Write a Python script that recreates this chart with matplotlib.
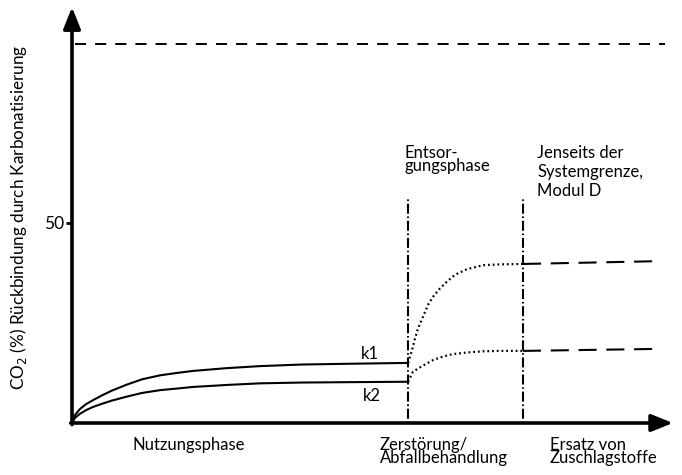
import matplotlib
matplotlib.use("Agg")
import matplotlib.pyplot as plt

plt.rcParams.update({"font.family": ["Lato", "DejaVu Sans"], "font.size": 12,
                     "lines.scale_dashes": False})

# phase boundaries (arbitrary time units) and top reference level
PHASE_X = [3.36, 4.51]
TOP_LEVEL = 94.6
TOP_X = [0.03, 5.93]
Y_TICKS = [50]

# use phase (solid)
use_x = [0, 0.03, 0.08, 0.14, 0.21, 0.3, 0.4, 0.55, 0.7, 0.88, 1.05, 1.21, 1.55, 1.88, 2.3, 2.8, 3.36]
k1_use = [0, 2.0, 3.5, 4.7, 5.7, 6.9, 8.1, 9.6, 10.9, 11.9, 12.5, 13.0, 13.7, 14.2, 14.6, 14.8, 15.0]
k2_use = [0, 1.3, 2.3, 3.2, 4.0, 4.8, 5.6, 6.6, 7.5, 8.2, 8.6, 9.0, 9.5, 9.9, 10.1, 10.2, 10.3]

# end-of-life phase (dotted)
k1_eol_x = [3.36, 3.40, 3.43, 3.46, 3.51, 3.56, 3.61, 3.68, 3.75, 3.83, 3.95, 4.11, 4.28, 4.51]
k1_eol = [15.0, 18.2, 21.1, 23.6, 26.5, 29.5, 31.5, 33.6, 35.3, 37.0, 38.4, 39.4, 39.6, 39.7]
k2_eol_x = [3.36, 3.41, 3.48, 3.55, 3.61, 3.71, 3.81, 3.95, 4.11, 4.28, 4.51]
k2_eol = [10.3, 12.8, 13.9, 14.9, 15.7, 16.6, 17.2, 17.6, 17.9, 18.0, 18.0]

# beyond system boundary (long dashes)
mod_d_x = [4.51, 5.86]
k1_mod_d = [39.7, 40.4]
k2_mod_d = [18.0, 18.5]

fig = plt.figure(figsize=(6.82, 4.75), dpi=100)
ax = fig.add_axes([72 / 682, 52 / 475, 601 / 682, 416.6 / 475])
ax.set_xlim(0, 6.01)
ax.set_ylim(0, 104)
for s in ax.spines.values():
    s.set_visible(False)
ax.set_xticks([])
ax.set_yticks(Y_TICKS)
ax.set_yticklabels([str(t) for t in Y_TICKS], fontsize=12.5)
ax.tick_params(axis="y", length=4.5, width=2, pad=1)

# axes with arrow heads
arrow = dict(arrowstyle="-|>,head_length=0.65,head_width=0.26", lw=2.6, color="black",
             mutation_scale=20, shrinkA=0, shrinkB=0)
ax.annotate("", xy=(0, 103.8), xytext=(0, -0.4), arrowprops=arrow, annotation_clip=False)
ax.annotate("", xy=(6.01, 0), xytext=(-0.013, 0), arrowprops=arrow, annotation_clip=False)

ax.plot(TOP_X, [TOP_LEVEL, TOP_LEVEL], color="black", lw=1.4, dashes=(8, 6.5))

ax.plot(use_x, k1_use, color="black", lw=1.5, solid_joinstyle="round")
ax.plot(use_x, k2_use, color="black", lw=1.5, solid_joinstyle="round")
ax.plot(k1_eol_x, k1_eol, color="black", lw=1.6, dashes=(1.3, 2.1))
ax.plot(k2_eol_x, k2_eol, color="black", lw=1.6, dashes=(1.3, 2.1))
ax.plot(mod_d_x, k1_mod_d, color="black", lw=1.5, dashes=(13, 7))
ax.plot(mod_d_x, k2_mod_d, color="black", lw=1.5, dashes=(13, 7))

for x in PHASE_X:
    ax.plot([x, x], [0, 56], color="black", lw=1.5, dashes=(1.1, 2.0, 7.2, 2.0))

ax.text(2.98, 17.2, "k1", ha="center", va="center")
ax.text(3.0, 6.7, "k2", ha="center", va="center")

ax.text(0.61, -3.5, "Nutzungsphase", ha="left", va="top")
ax.text(3.08, -3.5, "Zerstörung/\nAbfallbehandlung", ha="left", va="top", linespacing=0.8)
ax.text(4.78, -3.5, "Ersatz von\nZuschlagstoffe", ha="left", va="top", linespacing=0.8)
ax.text(3.32, 69.4, "Entsor-\ngungsphase", ha="left", va="top", linespacing=0.8)
ax.text(4.65, 69.4, "Jenseits der\nSystemgrenze,\nModul D", ha="left", va="top", linespacing=1.25)

fig.text(19 / 682, 1 - 217 / 475, "CO$_2$ (%) Rückbindung durch Karbonatisierung",
         rotation=90, ha="center", va="center", fontsize=12.3)

fig.savefig("out.png", dpi=100)
